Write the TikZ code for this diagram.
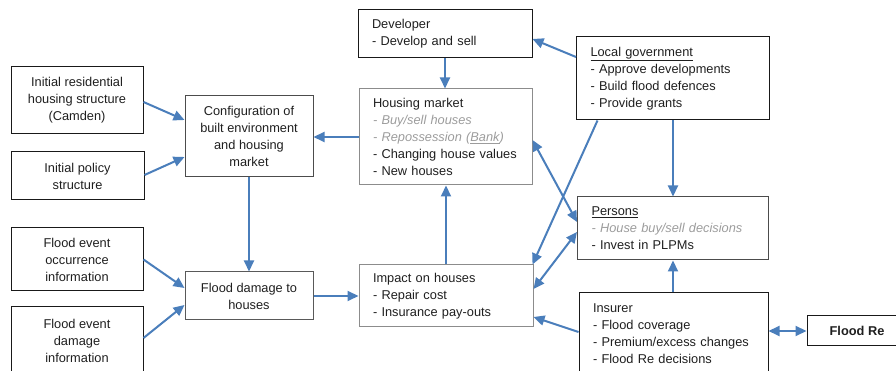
\documentclass[tikz,border=0pt]{standalone}
\usepackage{fontspec}
\setmainfont{Liberation Sans}
\usetikzlibrary{arrows.meta}

\definecolor{flowblue}{HTML}{4A7EBB}
\definecolor{faded}{HTML}{9C9C9C}

\tikzset{
  box/.style={draw=black!90, line width=1pt, inner xsep=14pt, inner ysep=0pt,
    font=\fontsize{12.8}{17}\selectfont, text=black!88},
  listbox/.style={box, align=left},
  textbox/.style={box, align=center, inner xsep=4pt},
  softbox/.style={draw=black!45},
  flow/.style={draw=flowblue, line width=2pt, -{Triangle[length=11pt,width=10pt]}},
  twoflow/.style={flow, {Triangle[length=11pt,width=10pt]}-{Triangle[length=11pt,width=10pt]}},
}

\begin{document}
\begin{tikzpicture}[x=1pt,y=1pt]
  \useasboundingbox (0,0) rectangle (896,371);
  \clip (0,0) rectangle (896,371);

  % inputs on the left
  \node[textbox, minimum width=132pt, minimum height=67pt] (initres) at (77,270.5)
    {Initial residential\\housing structure\\(Camden)};
  \node[textbox, minimum width=133pt, minimum height=48pt] (initpol) at (77.5,195)
    {Initial policy\\structure};
  \node[textbox, minimum width=132pt, minimum height=63pt] (floodocc) at (77,111.5)
    {Flood event\\occurrence\\information};
  \node[textbox, minimum width=132pt, minimum height=68pt] (flooddi) at (77,30)
    {Flood event\\damage\\information};

  % middle column
  \node[textbox, draw=black!70, minimum width=128pt, minimum height=81pt] (config) at (249,234.5)
    {Configuration of\\built environment\\and housing\\market};
  \node[textbox, draw=black!65, minimum width=128pt, minimum height=48pt] (flooddmg) at (249,75)
    {Flood damage to\\houses};

  % agents and markets
  \node[listbox, text width=146pt, minimum height=48pt] (developer) at (445,337)
    {Developer\\- Develop and sell};
  \node[listbox, softbox, text width=145pt, minimum height=96pt] (housing) at (445.5,234)
    {Housing market\\
     {\color{faded}\itshape - Buy/sell houses}\\
     {\color{faded}\itshape - Repossession (\underline{Bank})}\\
     - Changing house values\\
     - New houses};
  \node[listbox, softbox, text width=146pt, minimum height=62pt] (impact) at (446,75)
    {Impact on houses\\- Repair cost\\- Insurance pay-outs};
  \node[listbox, text width=165pt, minimum height=83pt] (localgov) at (673,292.5)
    {\underline{Local government}\\- Approve developments\\- Build flood defences\\- Provide grants};
  \node[listbox, draw=black!70, text width=163pt, minimum height=63pt] (persons) at (673,142.5)
    {\underline{Persons}\\{\color{faded}\itshape - House buy/sell decisions}\\- Invest in PLPMs};
  \node[listbox, text width=161pt, minimum height=82pt] (insurer) at (673.5,37)
    {Insurer\\- Flood coverage\\- Premium/excess changes\\- Flood Re decisions};
  \node[textbox, minimum width=100pt, minimum height=30pt, font=\fontsize{12.8}{17}\selectfont\bfseries] (floodre) at (857,40)
    {Flood Re};

  % connectors
  \draw[flow] ([yshift=-1.5pt]initres.east) -- ([yshift=16.5pt]config.west);
  \draw[flow] ([yshift=1pt]initpol.east) -- ([yshift=-20.5pt]config.west);
  \draw[flow] (housing.west) -- (housing.west -| config.east);
  \draw[flow] (config.south) -- (config.south |- flooddmg.north);
  \draw[flow] (floodocc.east) -- ([yshift=8pt]flooddmg.west);
  \draw[flow] ([yshift=3pt]flooddi.east) -- ([yshift=-9pt]flooddmg.west);
  \draw[flow] (flooddmg.east) -- (impact.west);
  \draw[flow] (developer.south) -- (developer.south |- housing.north);
  \draw[flow] ([yshift=21.5pt]localgov.west) -- ([yshift=-5pt]developer.east);
  \draw[flow] (impact.north) -- (impact.north |- housing.south);
  \draw[flow] ([xshift=-75.5pt]localgov.south) -- ([xshift=-1pt]impact.north east);
  \draw[twoflow] ([yshift=-3pt]housing.east) -- ([yshift=6.5pt]persons.west);
  \draw[twoflow] ([yshift=7pt]impact.east) -- ([yshift=-3.5pt]persons.west);
  \draw[flow] ([yshift=2pt]insurer.west) -- ([yshift=-21pt]impact.east);
  \draw[flow] (insurer.north -| persons.south) -- (persons.south);
  \draw[flow] (localgov.south) -- (persons.north);
  \draw[twoflow] (floodre.west -| insurer.east) -- (floodre.west);
\end{tikzpicture}
\end{document}
